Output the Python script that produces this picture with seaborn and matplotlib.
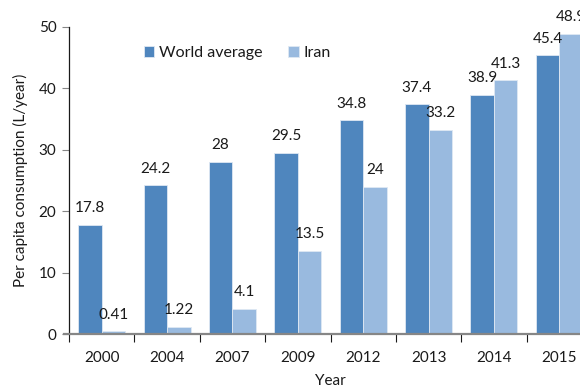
import matplotlib
matplotlib.use("Agg")
import matplotlib.pyplot as plt
import seaborn as sns
import pandas as pd

years = ["2000", "2004", "2007", "2009", "2012", "2013", "2014", "2015"]
world = [17.8, 24.2, 28, 29.5, 34.8, 37.4, 38.9, 45.4]
iran = [0.41, 1.22, 4.1, 13.5, 24, 33.2, 41.3, 48.9]
world_lbl = ["17.8", "24.2", "28", "29.5", "34.8", "37.4", "38.9", "45.4"]
iran_lbl = ["0.41", "1.22", "4.1", "13.5", "24", "33.2", "41.3", "48.9"]
series = ["World average", "Iran"]
colors = ["#4F86BE", "#99BADF"]

sns.set_theme(style="white")
plt.rcParams["font.family"] = ["Lato", "DejaVu Sans"]

df = pd.DataFrame({
    "Year": years * 2,
    "value": world + iran,
    "Series": [series[0]] * len(years) + [series[1]] * len(years),
})

fig = plt.figure(figsize=(5.8, 3.88), dpi=100)
ax = fig.add_axes([69 / 580, 54 / 388, (592 - 69) / 580, (334 - 27) / 388])

sns.barplot(data=df, x="Year", y="value", hue="Series", palette=colors,
            width=0.72, saturation=1, ax=ax, edgecolor="#dfe8f3", linewidth=0.6)

for cont, lbls in zip(ax.containers, [world_lbl, iran_lbl]):
    ax.bar_label(cont, labels=lbls, padding=7, fontsize=11, color="#1a1a1a")

ax.set_ylim(0, 50)
ax.set_xlim(-0.5, 7.5)
ax.set_yticks([0, 10, 20, 30, 40, 50])
ax.tick_params(axis="y", labelsize=11, length=5, width=0.8, color="#868686",
               left=True, pad=4, labelcolor="#1a1a1a")
ax.tick_params(axis="x", which="major", labelsize=11, length=0, pad=12,
               labelcolor="#1a1a1a")
ax.set_xticks([i - 0.5 for i in range(len(years) + 1)], minor=True)
ax.tick_params(axis="x", which="minor", length=6, width=0.8, color="#1a1a1a",
               bottom=True, direction="out")

for s in ["top", "right"]:
    ax.spines[s].set_visible(False)
ax.spines["left"].set_color("#1a1a1a")
ax.spines["left"].set_linewidth(0.9)
ax.spines["bottom"].set_color("#868686")
ax.spines["bottom"].set_linewidth(1.6)
ax.spines["bottom"].set_bounds(-0.57, 7.5)

ax.set_xlabel("Year", fontsize=11, labelpad=7, color="#1a1a1a")
ax.set_ylabel("Per capita consumption (L/year)", fontsize=11, labelpad=8,
              color="#1a1a1a")

leg = ax.legend(loc="center left", bbox_to_anchor=(136 / 580, 1 - 53 / 388),
                bbox_transform=fig.transFigure, ncol=2, frameon=False,
                fontsize=11.5, handlelength=0.65, handleheight=0.65,
                handletextpad=0.3, columnspacing=1.6, borderpad=0)
for t in leg.get_texts():
    t.set_color("#1a1a1a")

fig.savefig("out.png", dpi=100)
